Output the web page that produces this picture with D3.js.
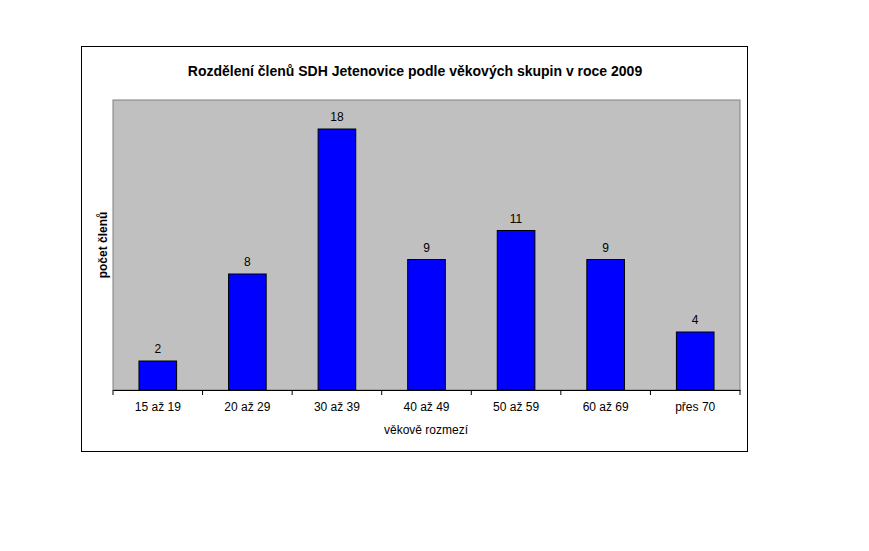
<!DOCTYPE html>
<html><head><meta charset="utf-8">
<script src="https://cdn.jsdelivr.net/npm/d3@7"></script>
<style>body{margin:0;background:#fff}</style></head>
<body><svg id="c" width="869" height="551"></svg>
<script>
const categories = ["15 až 19","20 až 29","30 až 39","40 až 49","50 až 59","60 až 69","přes 70"];
const values = [2,8,18,9,11,9,4];
const title = "Rozdělení členů SDH Jetenovice podle věkových skupin v roce 2009";
const xTitle = "věkově rozmezí";
const yTitle = "počet členů";

const svg = d3.select("#c");
const font = "Liberation Sans, Arial, sans-serif";
svg.append("rect").attr("x",81.5).attr("y",46.5).attr("width",666).attr("height",405)
  .attr("fill","#fff").attr("stroke","#000");
const L=113,R=740,T=100,B=390;
const x = d3.scaleBand().domain(categories).range([L,R]).paddingInner(0.58).paddingOuter(0.29);
const y = d3.scaleLinear().domain([0,20]).range([B,T]);
svg.append("rect").attr("x",L).attr("y",T).attr("width",R-L).attr("height",B-T)
  .attr("fill","#c0c0c0").attr("stroke","#808080");
svg.selectAll(".bar").data(values).join("rect")
  .attr("x",(d,i)=>x(categories[i])).attr("y",d=>y(d))
  .attr("width",x.bandwidth()).attr("height",d=>B-y(d))
  .attr("fill","#0000ff").attr("stroke","#000");
svg.selectAll(".lbl").data(values).join("text")
  .attr("x",(d,i)=>x(categories[i])+x.bandwidth()/2).attr("y",d=>y(d)-8)
  .attr("text-anchor","middle").attr("font-family",font).attr("font-size",12).text(d=>d);
const ax = svg.append("g").attr("transform",`translate(0,${B})`)
  .call(d3.axisBottom(x).tickSize(0).tickPadding(12));
ax.select(".domain").attr("stroke","#000");
ax.selectAll("text").attr("font-family",font).attr("font-size",12).attr("fill","#000");
// category separator ticks
const step = x.step();
ax.selectAll(".sep").data(d3.range(categories.length+1)).join("line")
  .attr("x1",i=>L+i*(R-L)/categories.length).attr("x2",i=>L+i*(R-L)/categories.length)
  .attr("y1",0).attr("y2",5).attr("stroke","#000");
svg.append("text").attr("x",415).attr("y",76).attr("text-anchor","middle")
  .attr("font-family",font).attr("font-size",14).attr("font-weight","bold").text(title);
svg.append("text").attr("x",426).attr("y",434).attr("text-anchor","middle")
  .attr("font-family",font).attr("font-size",12).text(xTitle);
svg.append("text").attr("transform","translate(107,245) rotate(-90)").attr("text-anchor","middle")
  .attr("font-family",font).attr("font-size",12).attr("font-weight","bold").text(yTitle);
</script></body></html>
